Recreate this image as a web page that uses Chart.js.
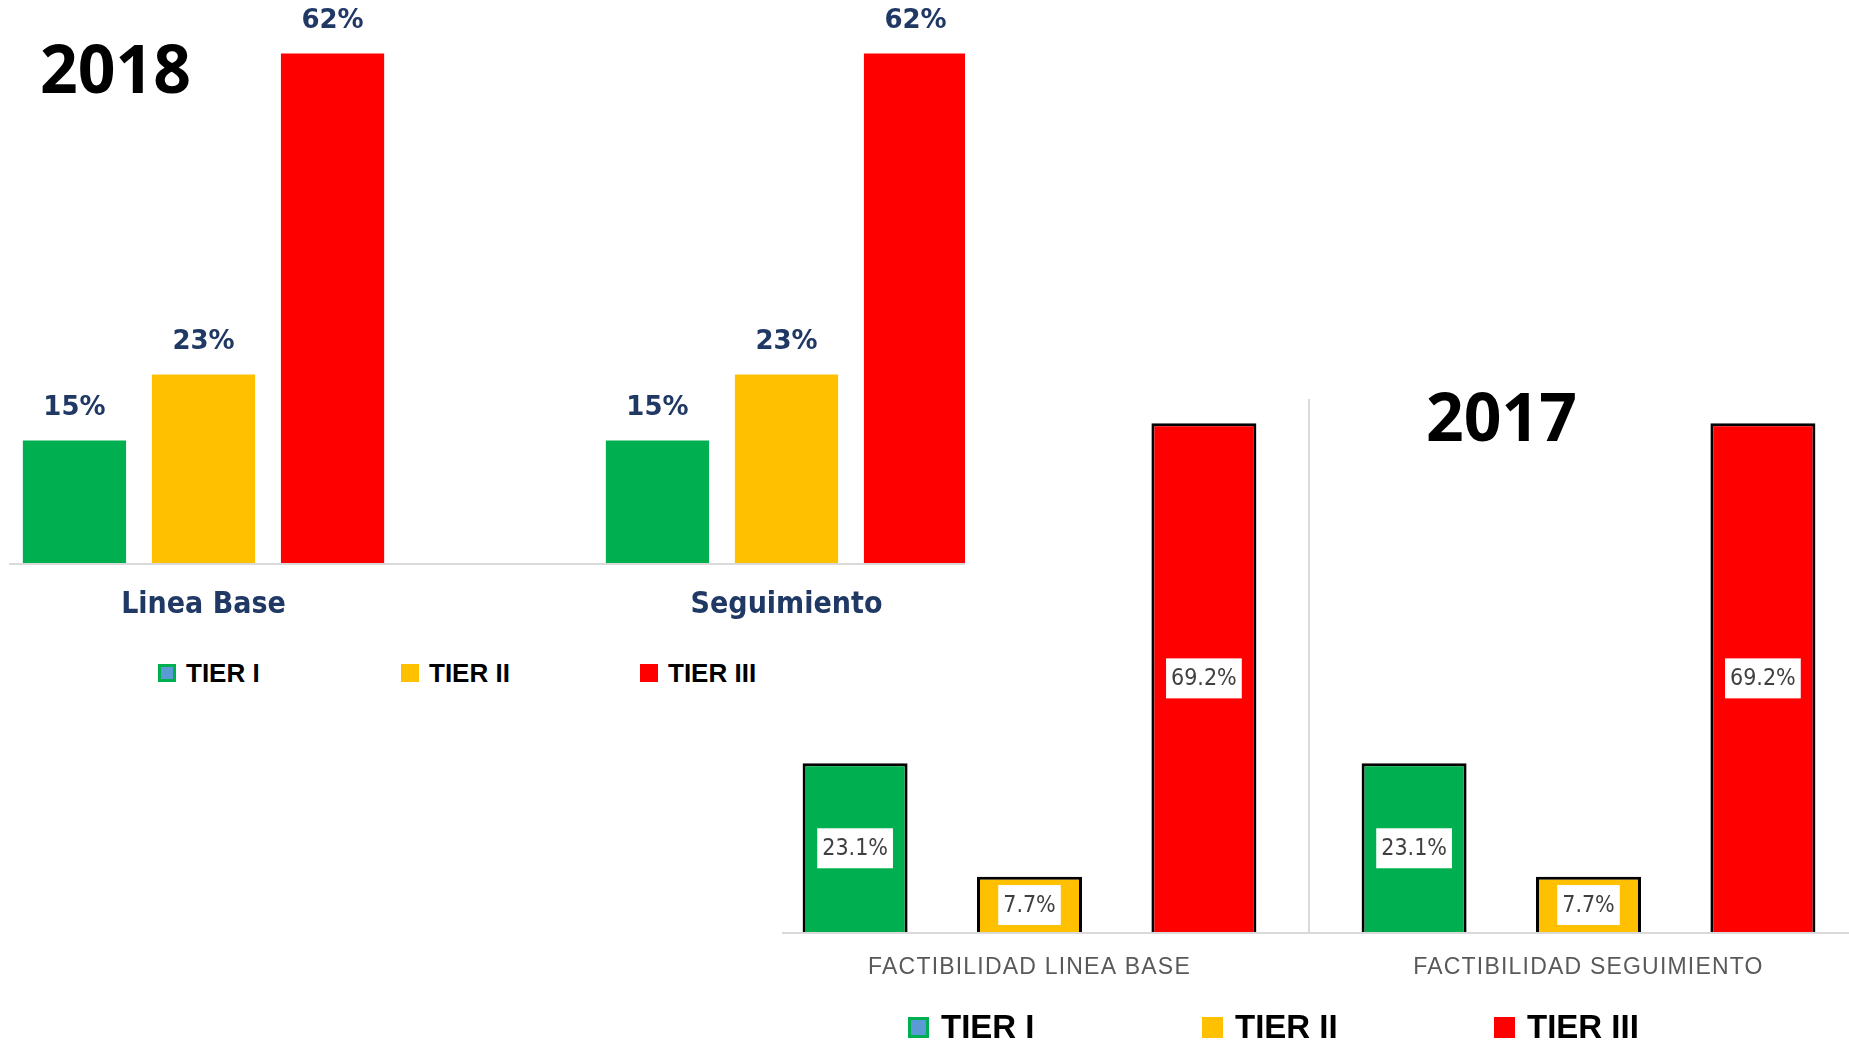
<!DOCTYPE html>
<html>
<head>
<meta charset="utf-8">
<script src="https://cdn.jsdelivr.net/npm/chart.js@4.4.0/dist/chart.umd.min.js"></script>
<style>
  body { margin: 0; width: 1849px; height: 1044px; overflow: hidden; background: #fff; position: relative; font-family: "Liberation Sans", Arial, sans-serif; }
  .clip { position: absolute; overflow: hidden; }
  .clip canvas { position: absolute; top: 0; }
  #box2018 { left: 9px; top: 0; width: 956px; height: 660px; }
  #c2018 { left: -97px; }
  #box2017 { left: 782px; top: 380px; width: 1067px; height: 664px; }
  #c2017 { left: -32px; }
  .year { position: absolute; font-family: "Open Sans", sans-serif; font-weight: 700; font-size: 66px; line-height: 66px; color: #000; }
  .leg { position: absolute; font-weight: 700; color: #000; white-space: nowrap; }
  .leg .item { position: absolute; top: 0; display: flex; align-items: center; }
  .leg span.sw { display: inline-block; box-sizing: border-box; }
</style>
</head>
<body>
<div class="clip" id="box2018"><canvas id="c2018" width="1166" height="651"></canvas></div>
<div class="clip" id="box2017"><canvas id="c2017" width="1118" height="631"></canvas></div>
<div class="year" style="left:40px; top:34px;">2018</div>
<div class="year" style="left:1426px; top:382px;">2017</div>
<div id="leg2018"></div>
<div id="leg2017"></div>

<script>
// Data
const tiers = ["TIER I", "TIER II", "TIER III"];
const tierColors = ["#00B050", "#FFC000", "#FF0000"];

const cats2018 = ["Linea Base", "Seguimiento"];
const tier1_2018 = [15, 15];
const tier2_2018 = [23, 23];
const tier3_2018 = [62, 62];

const cats2017 = ["FACTIBILIDAD LINEA BASE", "FACTIBILIDAD SEGUIMIENTO"];
const tier1_2017 = [23.1, 23.1];
const tier2_2017 = [7.7, 7.7];
const tier3_2017 = [69.2, 69.2];

// value labels drawn on each bar
const valueLabels = {
    id: "valueLabels",
    afterDatasetsDraw(chart, args, opts) {
        const ctx = chart.ctx;
        ctx.save();
        ctx.letterSpacing = "0px";
        ctx.font = opts.font;
        ctx.textAlign = "center";
        ctx.textBaseline = "middle";
        chart.data.datasets.forEach((ds, i) => {
            chart.getDatasetMeta(i).data.forEach((bar, j) => {
                const text = ds.data[j].toFixed(opts.decimals) + "%";
                if (opts.boxed) {
                    const y = (bar.y + bar.base) / 2;
                    const w = ctx.measureText(text).width + opts.padX * 2;
                    ctx.fillStyle = "#fff";
                    ctx.fillRect(bar.x - w / 2, y - opts.boxH / 2, w, opts.boxH);
                    ctx.fillStyle = opts.color;
                    ctx.fillText(text, bar.x, y + 1);
                } else {
                    ctx.fillStyle = opts.color;
                    ctx.fillText(text, bar.x, bar.y - opts.offset);
                }
            });
        });
        ctx.restore();
    }
};

// spaced-out category labels (2017)
const spacedTicks = {
    id: "spacedTicks",
    beforeDraw(chart, args, opts) {
        chart.ctx.letterSpacing = opts.spacing;
    }
};

// 2018
new Chart(document.getElementById("c2018"), {
    type: "bar",
    data: {
        labels: cats2018,
        datasets: [
            { label: tiers[0], data: tier1_2018, backgroundColor: tierColors[0] },
            { label: tiers[1], data: tier2_2018, backgroundColor: tierColors[1] },
            { label: tiers[2], data: tier3_2018, backgroundColor: tierColors[2] }
        ]
    },
    options: {
        responsive: false,
        animation: false,
        layout: { padding: { top: 4, bottom: 4 } },
        datasets: { bar: { barPercentage: 0.8, categoryPercentage: 0.664 } },
        scales: {
            x: {
                grid: { display: false, drawTicks: false },
                border: { display: true, color: "#D9D9D9", width: 2, z: 1 },
                ticks: {
                    color: "#1F3864",
                    padding: 23.5,
                    font: { family: "'DejaVu Sans Condensed', 'DejaVu Sans'", size: 30, weight: "bold" }
                }
            },
            y: { display: false, min: 0, max: 68 }
        },
        plugins: {
            legend: { display: false },
            tooltip: { enabled: false },
            valueLabels: { font: "bold 26px 'DejaVu Sans'", color: "#1F3864", offset: 32, decimals: 0 }
        }
    },
    plugins: [valueLabels]
});

// 2017
new Chart(document.getElementById("c2017"), {
    type: "bar",
    data: {
        labels: cats2017,
        datasets: [
            { label: tiers[0], data: tier1_2017, backgroundColor: tierColors[0] },
            { label: tiers[1], data: tier2_2017, backgroundColor: tierColors[1] },
            { label: tiers[2], data: tier3_2017, backgroundColor: tierColors[2] }
        ]
    },
    options: {
        responsive: false,
        animation: false,
        layout: { padding: { top: 19, bottom: 10 } },
        datasets: {
            bar: { barPercentage: 0.602, categoryPercentage: 0.936, borderColor: "#000", borderWidth: 3 }
        },
        scales: {
            x: {
                grid: { display: true, color: "#D9D9D9", lineWidth: 2, drawTicks: false },
                border: { display: true, color: "#D9D9D9", width: 2, z: 1 },
                ticks: {
                    color: "#595959",
                    padding: 20,
                    font: { family: "'Liberation Sans'", size: 23 }
                }
            },
            y: { display: false, min: 0, max: 72.5 }
        },
        plugins: {
            legend: { display: false },
            tooltip: { enabled: false },
            spacedTicks: { spacing: "1.2px" },
            valueLabels: { font: "23px 'DejaVu Sans Condensed', 'DejaVu Sans'", color: "#404040", boxed: true, padX: 5, boxH: 40, decimals: 1 }
        }
    },
    plugins: [spacedTicks, valueLabels]
});

// HTML legends
function buildLegend(el, opts) {
    el.className = "leg";
    el.style.left = opts.left + "px";
    el.style.top = opts.top + "px";
    el.style.fontSize = opts.fontSize + "px";
    el.style.lineHeight = opts.lineHeight + "px";
    tiers.forEach((t, i) => {
        const item = document.createElement("div");
        item.className = "item";
        item.style.left = opts.itemLeft[i] + "px";
        const sw = document.createElement("span");
        sw.className = "sw";
        sw.style.width = opts.box + "px";
        sw.style.height = opts.box + "px";
        if (i === 0) {
            sw.style.background = "#5B9BD5";
            sw.style.border = "3px solid " + tierColors[0];
        } else {
            sw.style.background = tierColors[i];
        }
        const txt = document.createElement("span");
        txt.textContent = t;
        txt.style.marginLeft = opts.gap + "px";
        item.appendChild(sw);
        item.appendChild(txt);
        el.appendChild(item);
    });
}

buildLegend(document.getElementById("leg2018"), {
    left: 158, top: 658, fontSize: 26, lineHeight: 30, box: 18, gap: 10, itemLeft: [0, 243, 482]
});
buildLegend(document.getElementById("leg2017"), {
    left: 908, top: 1008, fontSize: 33, lineHeight: 38, box: 21, gap: 12, itemLeft: [0, 294, 586]
});
</script>
</body>
</html>
